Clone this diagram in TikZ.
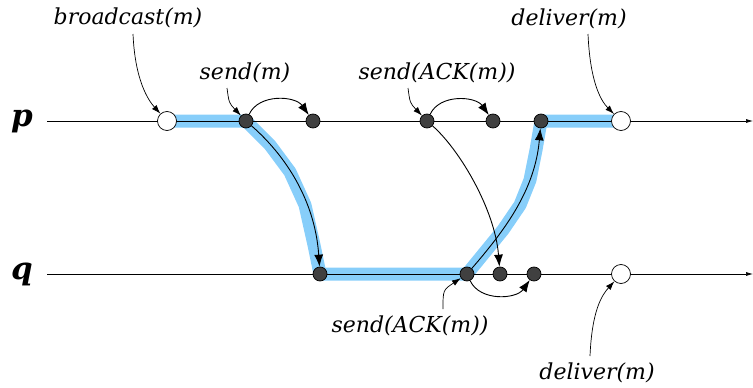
\documentclass[tikz,border=0pt]{standalone}
\usepackage{fontspec}
\setmainfont{DejaVu Serif}
\usetikzlibrary{arrows.meta}
\definecolor{hl}{RGB}{135,206,250}
\definecolor{dotfill}{RGB}{64,64,64}
\tikzset{
  wnode/.style={circle,draw,fill=white,minimum size=19pt,inner sep=0pt,line width=0.7pt},
  dnode/.style={circle,draw,fill=dotfill,minimum size=14pt,inner sep=0pt,line width=0.7pt},
  lbl/.style={font=\itshape\fontsize{22}{24}\selectfont,inner sep=0pt},
  proc/.style={font=\bfseries\itshape\fontsize{31}{33}\selectfont,inner sep=0pt},
  msg/.style={-{Latex[length=12pt,width=9pt]},line width=0.9pt},
  ptr/.style={-{Latex[length=9pt,width=6pt]},line width=0.7pt},
  tl/.style={-{Latex[length=7pt,width=4pt]},line width=0.7pt},
  hlpath/.style={hl,line width=13pt,line join=round}
}
\begin{document}
\begin{tikzpicture}[x=1pt,y=-1pt]
\useasboundingbox (0,0) rectangle (753,388);
% positions
\coordinate (ps) at (47,121);
\coordinate (pe) at (753,121);
\coordinate (qs) at (47,274);
\coordinate (qe) at (753,274);
\coordinate (cpw1) at (167,121);
\coordinate (cps1) at (246,121);
\coordinate (cpr1) at (313,121);
\coordinate (cps2) at (427,121);
\coordinate (cpr2) at (493,121);
\coordinate (cpr3) at (541,121);
\coordinate (cpw2) at (621,121);
\coordinate (cqr1) at (320,274);
\coordinate (cqs1) at (467,274);
\coordinate (cqr2) at (500,274);
\coordinate (cqr3) at (534,274);
\coordinate (cqw) at (621,274);
% highlight
\draw[hlpath] (cpw1) -- (cps1) -- (270,145) -- (290,172) -- (305,205) -- (314,245) -- (cqr1)
  -- (cqs1) -- (503,230) -- (520,205) -- (530,180) -- (536,150) -- (cpr3) -- (cpw2);
% timelines
\draw[tl] (ps) -- (pe);
\draw[tl] (qs) -- (qe);
\node[proc] (p) at (22,121) {p};
\node[proc] (q) at (22,274) {q};
% events
\node[wnode] (pw1) at (cpw1) {};
\node[dnode] (ps1) at (cps1) {};
\node[dnode] (pr1) at (cpr1) {};
\node[dnode] (ps2) at (cps2) {};
\node[dnode] (pr2) at (cpr2) {};
\node[dnode] (pr3) at (cpr3) {};
\node[wnode] (pw2) at (cpw2) {};
\node[dnode] (qr1) at (cqr1) {};
\node[dnode] (qs1) at (cqs1) {};
\node[dnode] (qr2) at (cqr2) {};
\node[dnode] (qr3) at (cqr3) {};
\node[wnode] (qw) at (cqw) {};
% messages
\draw[msg] (ps1) .. controls (285,155) and (315,200) .. (qr1);
\draw[msg] (ps2) .. controls (460,150) and (495,210) .. (qr2);
\draw[msg] (qs1) .. controls (505,230) and (535,190) .. (pr3);
\draw[msg] (ps1) to[out=65,in=125] (pr1);
\draw[msg] (ps2) to[out=65,in=125] (pr2);
\draw[msg] (qs1) to[out=-65,in=-125] (qr3);
% labels
\node[lbl] (lbc) at (128,18) {broadcast(m)};
\node[lbl] (lsm) at (245,73) {send(m)};
\node[lbl] (lsa) at (437,73) {send(ACK(m))};
\node[lbl] (ldp) at (569,19) {deliver(m)};
\node[lbl] (lsq) at (410,326) {send(ACK(m))};
\node[lbl] (ldq) at (597,373) {deliver(m)};
\coordinate (tbc) at (133,34);
\coordinate (tsm) at (227,88);
\coordinate (tsa) at (408,88);
\coordinate (tdp) at (588,34);
\coordinate (tsq) at (443,309);
\coordinate (tdq) at (590,356);
\draw[ptr] (tbc) .. controls (135,80) and (148,100) .. (pw1);
\draw[ptr] (tsm) .. controls (229,103) .. (ps1);
\draw[ptr] (tsa) .. controls (410,103) .. (ps2);
\draw[ptr] (tdp) .. controls (590,80) and (600,100) .. (pw2);
\draw[ptr] (tsq) .. controls (443,290) .. (qs1);
\draw[ptr] (tdq) .. controls (592,310) and (602,295) .. (qw);
\end{tikzpicture}
\end{document}
